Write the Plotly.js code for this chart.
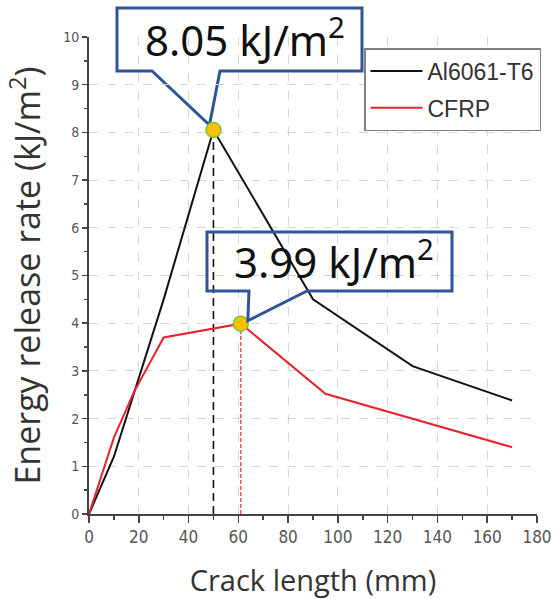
<!DOCTYPE html>
<html>
<head>
<meta charset="utf-8">
<script src="https://cdn.plot.ly/plotly-3.0.1.min.js"></script>
<style>html,body{margin:0;padding:0;background:#fff;}#chart{width:556px;height:599px;}</style>
</head>
<body>
<div id="chart"></div>
<script>
// ---- data ----
const alCrack = [0, 10, 30, 50, 90, 130, 170];
const alRate  = [0, 1.2, 4.5, 8.05, 4.5, 3.1, 2.38];
const cfCrack = [0, 10, 18, 30, 61, 95, 170];
const cfRate  = [0, 1.6, 2.55, 3.7, 3.99, 2.52, 1.4];
const peakCrack = [50, 61];
const peakRate  = [8.05, 3.99];
const peakLabels = ["8.05 kJ/m<sup>2</sup>", "3.99 kJ/m<sup>2</sup>"];
const seriesNames = ["Al6061-T6", "CFRP"];
const xRange = [0, 180];
const yRange = [0, 10];

// ---- layout geometry ----
const W = 556, H = 599;
const M = {l: 89, r: 19, t: 37, b: 85};
const pw = W - M.l - M.r, ph = H - M.t - M.b;
const xPx = x => M.l + (x - xRange[0]) / (xRange[1] - xRange[0]) * pw;
const yPx = y => M.t + (1 - (y - yRange[0]) / (yRange[1] - yRange[0])) * ph;
const px2p = px => (px - M.l) / pw;
const py2p = py => 1 - (py - M.t) / ph;
const P = (px, py) => px2p(px).toFixed(5) + ',' + py2p(py).toFixed(5);

function callout(box, baseL, baseR, tip) {
  const [x0, y0, x1, y1] = box;
  return 'M' + P(x0, y0) + ' L' + P(x1, y0) + ' L' + P(x1, y1) +
         ' L' + P(baseR, y1) + ' L' + P(tip[0], tip[1]) + ' L' + P(baseL, y1) +
         ' L' + P(x0, y1) + ' Z';
}

const tip1 = [xPx(peakCrack[0]) - 4, yPx(peakRate[0]) - 5];
const tip2 = [xPx(peakCrack[1]) + 7, yPx(peakRate[1]) - 3];
const box1 = [117, 8, 362, 71];
const box2 = [207, 232, 452, 291];

const traces = [
  {x: [peakCrack[0], peakCrack[0]], y: [0, peakRate[0]], mode: 'lines',
   line: {color: '#111', width: 1.6, dash: '8px,5px'}, showlegend: false, hoverinfo: 'skip'},
  {x: [peakCrack[1], peakCrack[1]], y: [0, peakRate[1]], mode: 'lines',
   line: {color: '#E8222E', width: 1.2, dash: '4px,2px'}, showlegend: false, hoverinfo: 'skip'},
  {x: alCrack, y: alRate, mode: 'lines', name: seriesNames[0], legendgroup: 'a',
   line: {color: '#111', width: 2}},
  {x: cfCrack, y: cfRate, mode: 'lines', name: seriesNames[1], legendgroup: 'b',
   line: {color: '#E8222E', width: 2}},
  {x: peakCrack, y: peakRate, mode: 'markers', showlegend: false,
   marker: {size: 15, color: '#FFC000', line: {color: '#7CC242', width: 1.5}}}
];

const tickFont = {family: 'Liberation Sans Narrow, DejaVu Sans Condensed, Arial Narrow, sans-serif', color: '#555'};

const layout = {
  width: W, height: H,
  margin: M,
  paper_bgcolor: '#fff', plot_bgcolor: '#fff',
  showlegend: true,
  legend: {
    x: px2p(364), y: py2p(48), xanchor: 'left', yanchor: 'top',
    bgcolor: '#fff', bordercolor: '#808080', borderwidth: 1.5,
    font: {family: 'Liberation Sans, Arial, sans-serif', size: 23, color: '#333'},
    itemwidth: 52,
    tracegroupgap: 4
  },
  xaxis: {
    range: xRange, dtick: 20, tick0: 0,
    ticks: 'outside', ticklen: 7, tickwidth: 1.5, tickcolor: '#444',
    showline: true, linecolor: '#444', linewidth: 2,
    showgrid: true, gridcolor: '#d6d6d6', griddash: 'dash', gridwidth: 1,
    zeroline: false,
    minor: {dtick: 10, ticklen: 4, tickcolor: '#444', tickwidth: 1.5, showgrid: false},
    tickfont: Object.assign({size: 17}, tickFont),
    title: {text: 'Crack length (mm)', standoff: 24,
            font: {family: 'Open Sans, Noto Sans, sans-serif', size: 29, color: '#333'}}
  },
  yaxis: {
    range: yRange, dtick: 1, tick0: 0,
    ticks: 'outside', ticklen: 5, tickwidth: 1.5, tickcolor: '#444',
    showline: true, linecolor: '#444', linewidth: 2,
    showgrid: true, gridcolor: '#d6d6d6', griddash: 'dash', gridwidth: 1,
    zeroline: false,
    minor: {dtick: 0.5, ticklen: 3, tickcolor: '#444', tickwidth: 1.5, showgrid: false},
    tickfont: Object.assign({size: 14}, tickFont),
    title: {text: 'Energy release rate (kJ/m<sup>2</sup>)', standoff: 12,
            font: {family: 'Open Sans, Noto Sans, sans-serif', size: 34, color: '#333'}}
  },
  shapes: [
    {type: 'path', xref: 'paper', yref: 'paper', path: callout(box1, 152, 220, tip1),
     line: {color: '#2F5597', width: 3}, fillcolor: '#fff', layer: 'between'},
    {type: 'path', xref: 'paper', yref: 'paper', path: callout(box2, 249, 307, tip2),
     line: {color: '#2F5597', width: 3}, fillcolor: 'rgba(255,255,255,0)', layer: 'above'}
  ],
  annotations: [
    {xref: 'paper', yref: 'paper', x: px2p(245), y: py2p(37), xanchor: 'center', yanchor: 'middle',
     text: peakLabels[0], showarrow: false,
     font: {family: 'Noto Sans, Open Sans, sans-serif', size: 42, color: '#111'}},
    {xref: 'paper', yref: 'paper', x: px2p(334), y: py2p(259), xanchor: 'center', yanchor: 'middle',
     text: peakLabels[1], showarrow: false,
     font: {family: 'Noto Sans, Open Sans, sans-serif', size: 42, color: '#111'}}
  ]
};

Plotly.newPlot('chart', traces, layout, {displayModeBar: false, staticPlot: true});
</script>
</body>
</html>
